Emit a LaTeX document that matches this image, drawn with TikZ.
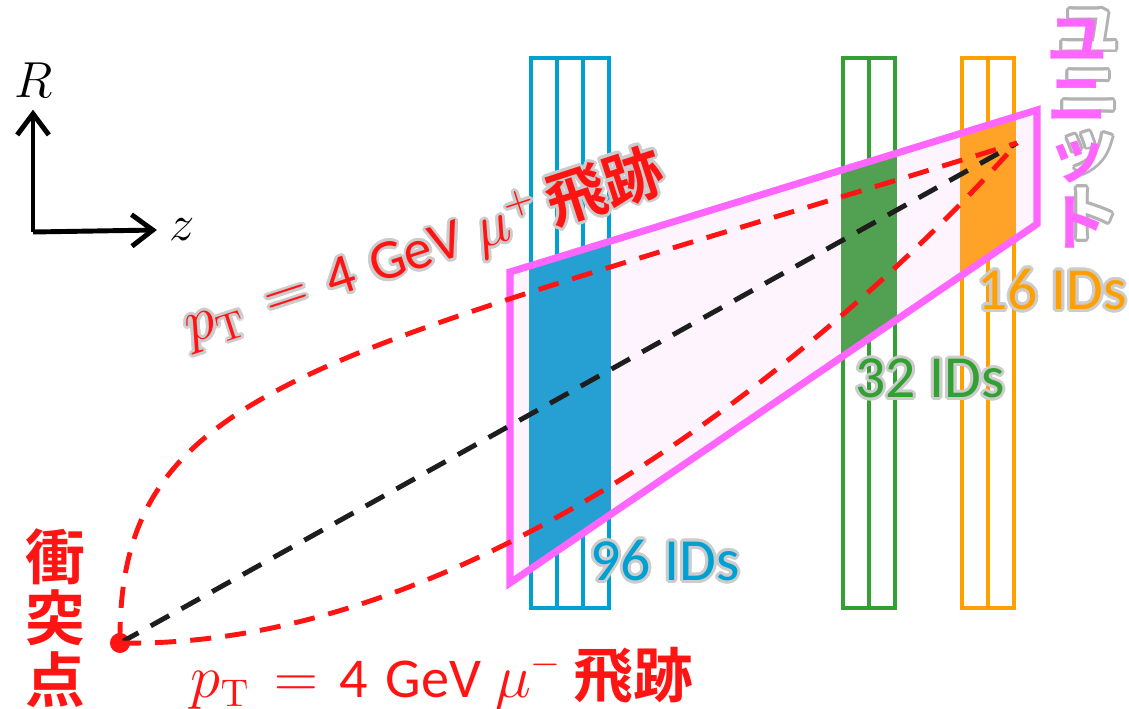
\documentclass[tikz,border=0pt]{standalone}
\usepackage[no-math]{fontspec}
\setmainfont{Carlito}
\newfontfamily\jpfont[BoldFont={Noto Sans CJK JP Bold}]{Noto Sans CJK JP}
\usepackage{contour}
\contourlength{0.8pt}
\usetikzlibrary{arrows.meta}
\definecolor{detblue}{RGB}{0,160,210}
\definecolor{detgreen}{RGB}{50,160,50}
\definecolor{detorange}{RGB}{255,160,0}
\definecolor{fillblue}{RGB}{38,160,210}
\definecolor{fillgreen}{RGB}{82,160,82}
\definecolor{fillorange}{RGB}{255,162,40}
\definecolor{unitpink}{RGB}{255,102,255}
\definecolor{unitfill}{RGB}{253,244,253}
\definecolor{trackred}{RGB}{255,20,20}
\definecolor{trackblack}{RGB}{30,30,30}
\newcommand{\glow}[1]{\contour{black!20}{#1}}
\newcommand{\trackname}[1]{$p_{\mathrm{T}}$\hspace{7pt}$=$\hspace{6pt}4\hspace{5pt}GeV\hspace{4pt}$\mu^{#1}$\hspace{3pt}{\jpfont\bfseries\fontsize{17}{17}\selectfont 飛跡}}

\begin{document}
\begin{tikzpicture}[x=0.01cm, y=-0.01cm,
    track/.style={line width=1.4pt, dash pattern=on 6pt off 4pt, trackred},
    axis/.style={line width=1.4pt, -{Straight Barb[length=6pt, width=9pt]}},
    detector/.style={line width=1.1pt},
    idlabel/.style={font=\fontsize{17}{18}\selectfont, inner sep=0pt},
    tracklabel/.style={font=\fontsize{16}{18}\selectfont, text=trackred, inner sep=0pt, anchor=base west},
    jplabel/.style={font=\jpfont\bfseries\fontsize{17}{17.4}\selectfont, align=center, inner sep=0pt},
    unitlabel/.style={font=\jpfont\bfseries\fontsize{17.5}{17.5}\selectfont, inner sep=0pt},
    ipdot/.style={circle, fill=trackred, inner sep=0pt, minimum size=0.2cm}
]
\useasboundingbox (0,0) rectangle (1129,709);

% axes
\coordinate (o) at (33,232);
\node[font=\fontsize{14.5}{15}\selectfont] (R) at (34,80) {$R$};
\node[font=\fontsize{15}{15}\selectfont] (z) at (182,230) {$z$};
\draw[axis] (o) -- (o |- R.south);
\draw[axis] (o) -- (z.west);

% detectors
\draw[detector, detblue] (531,58) rectangle (609,608);
\draw[detector, detgreen] (843,58) rectangle (895,608);
\draw[detector, detorange] (962,58) rectangle (1014,608);
\foreach \lx in {557,583} \draw[detector, detblue] (\lx,58) -- (\lx,608);
\draw[detector, detgreen] (869,58) -- (869,608);
\draw[detector, detorange] (988,58) -- (988,608);

% unit
\coordinate (u1) at (510,272);
\coordinate (u2) at (1037,110);
\coordinate (u3) at (1037,224);
\coordinate (u4) at (510,583);
\fill[unitfill] (u1) -- (u2) -- (u3) -- (u4) -- cycle;
\begin{scope}
  \clip (u1) -- (u2) -- (u3) -- (u4) -- cycle;
  \fill[fillblue] (529,0) rectangle (611,709);
  \fill[fillgreen] (841,0) rectangle (897,709);
  \fill[fillorange] (960,0) rectangle (1016,709);
\end{scope}
\draw[unitpink, line width=2pt] (u1) -- (u2) -- (u3) -- (u4) -- cycle;

% tracks
\coordinate (hit) at (1017,143);
\node[ipdot] (ip) at (120,643) {};
\draw[track, trackblack] (ip.center) -- (hit);
\draw[track] (ip.center) .. controls (118,380) and (320,360) .. (hit);
\draw[track] (ip.center) .. controls (500,650) and (880,300) .. (hit);

% labels
\node[jplabel, text=trackred] (ipname) at (55,618) {衝\\突\\点};
\node[tracklabel] (muminus) at (190,697) {\trackname{-}};
\node[tracklabel, rotate=18] (muplus) at (190,344) {\glow{\trackname{+}}};
\node[idlabel, text=detblue] (blueid) at (665,562) {\glow{96 IDs}};
\node[idlabel, text=detgreen] (greenid) at (930,380) {\glow{32 IDs}};
\node[idlabel, text=detorange] (orangeid) at (1052,291) {\glow{16 IDs}};
\foreach \ch [count=\i] in {ユ,ニ,ッ,ト} {
  \node[unitlabel, text=white] (shadow\i) at (1089,40+61*\i-61-8) {\contour{black!30}{\ch}};
  \node[unitlabel, text=unitpink] (unit\i) at (1077,40+61*\i-61) {\ch};
}
\end{tikzpicture}
\end{document}
